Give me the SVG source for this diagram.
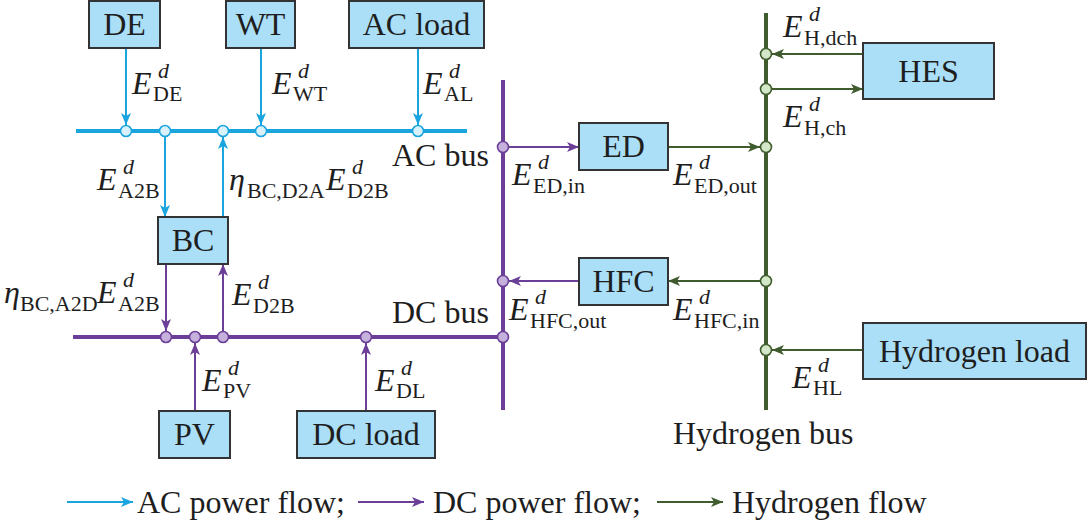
<svg xmlns="http://www.w3.org/2000/svg" width="1088" height="524" viewBox="0 0 1088 524" font-family="Liberation Serif, Times New Roman, DejaVu Serif, serif">
<style>
text{font-family:'Liberation Serif','Times New Roman','DejaVu Serif',serif;fill:#1e1e1e}
.lbl{font-size:32px}
.E{font-size:32px;font-style:italic}
.s{font-size:22px}
.d{font-size:22px;font-style:italic}
.box{fill:#aadff7;stroke:#333;stroke-width:2}
.ac{stroke:#1aa5df;fill:none}
.dc{stroke:#6b3f98;fill:none}
.h2{stroke:#405c2e;fill:none}
.bus{stroke-width:4}
.fl{stroke-width:2}
.cac{fill:#d9f1fb;stroke:#1aa5df;stroke-width:1.6}
.cdc{fill:#c6b1dc;stroke:#6b3f98;stroke-width:1.6}
.ch2{fill:#d2e8c8;stroke:#405c2e;stroke-width:1.6}
</style>
<defs>
<marker id="mac" markerUnits="userSpaceOnUse" markerWidth="13" markerHeight="10" refX="12" refY="5" orient="auto"><path d="M0,0 L12,5 L0,10 L3,5 z" fill="#1aa5df"/></marker>
<marker id="mdc" markerUnits="userSpaceOnUse" markerWidth="13" markerHeight="10" refX="12" refY="5" orient="auto"><path d="M0,0 L12,5 L0,10 L3,5 z" fill="#6b3f98"/></marker>
<marker id="mh2" markerUnits="userSpaceOnUse" markerWidth="13" markerHeight="10" refX="12" refY="5" orient="auto"><path d="M0,0 L12,5 L0,10 L3,5 z" fill="#405c2e"/></marker>
</defs>
<rect width="1088" height="524" fill="#fff"/>

<g id="connectors">
<line class="ac bus" x1="76" y1="131" x2="467" y2="131"/>
<line class="dc bus" x1="73" y1="337" x2="503" y2="337"/>
<line class="dc bus" x1="503" y1="80" x2="503" y2="410"/>
<line class="h2 bus" x1="766" y1="13" x2="766" y2="410"/>
<line class="ac fl" x1="126" y1="48" x2="126" y2="125" marker-end="url(#mac)"/>
<line class="ac fl" x1="261" y1="48" x2="261" y2="125" marker-end="url(#mac)"/>
<line class="ac fl" x1="418" y1="48" x2="418" y2="125" marker-end="url(#mac)"/>
<line class="ac fl" x1="165" y1="137" x2="165" y2="217" marker-end="url(#mac)"/>
<line class="ac fl" x1="223" y1="217" x2="223" y2="137" marker-end="url(#mac)"/>
<line class="dc fl" x1="166" y1="264" x2="166" y2="331" marker-end="url(#mdc)"/>
<line class="dc fl" x1="223" y1="331" x2="223" y2="264" marker-end="url(#mdc)"/>
<line class="dc fl" x1="195" y1="411" x2="195" y2="343" marker-end="url(#mdc)"/>
<line class="dc fl" x1="366" y1="411" x2="366" y2="343" marker-end="url(#mdc)"/>
<line class="dc fl" x1="509" y1="147" x2="579" y2="147" marker-end="url(#mdc)"/>
<line class="dc fl" x1="579" y1="281" x2="509" y2="281" marker-end="url(#mdc)"/>
<line class="h2 fl" x1="668" y1="147" x2="760" y2="147" marker-end="url(#mh2)"/>
<line class="h2 fl" x1="760" y1="281" x2="668" y2="281" marker-end="url(#mh2)"/>
<line class="h2 fl" x1="863" y1="54" x2="772" y2="54" marker-end="url(#mh2)"/>
<line class="h2 fl" x1="772" y1="89" x2="863" y2="89" marker-end="url(#mh2)"/>
<line class="h2 fl" x1="863" y1="350" x2="772" y2="350" marker-end="url(#mh2)"/>
<circle class="cac" cx="126" cy="131" r="5.5"/>
<circle class="cac" cx="165" cy="131" r="5.5"/>
<circle class="cac" cx="223" cy="131" r="5.5"/>
<circle class="cac" cx="261" cy="131" r="5.5"/>
<circle class="cac" cx="418" cy="131" r="5.5"/>
<circle class="cdc" cx="166" cy="337" r="5.5"/>
<circle class="cdc" cx="195" cy="337" r="5.5"/>
<circle class="cdc" cx="223" cy="337" r="5.5"/>
<circle class="cdc" cx="366" cy="337" r="5.5"/>
<circle class="cdc" cx="503" cy="337" r="5.5"/>
<circle class="cdc" cx="503" cy="147" r="5.5"/>
<circle class="cdc" cx="503" cy="281" r="5.5"/>
<circle class="ch2" cx="766" cy="54" r="5.5"/>
<circle class="ch2" cx="766" cy="89" r="5.5"/>
<circle class="ch2" cx="766" cy="147" r="5.5"/>
<circle class="ch2" cx="766" cy="281" r="5.5"/>
<circle class="ch2" cx="766" cy="350" r="5.5"/>
<text><tspan class="E" x="132" y="94">E</tspan><tspan class="d" x="158" y="78">d</tspan><tspan class="s" x="153" y="101">DE</tspan></text>
<text><tspan class="E" x="272" y="94">E</tspan><tspan class="d" x="298" y="78">d</tspan><tspan class="s" x="293" y="101">WT</tspan></text>
<text><tspan class="E" x="423" y="94">E</tspan><tspan class="d" x="449" y="78">d</tspan><tspan class="s" x="444" y="101">AL</tspan></text>
<text><tspan class="E" x="97" y="190">E</tspan><tspan class="d" x="123" y="174">d</tspan><tspan class="s" x="118" y="198">A2B</tspan></text>
<text><tspan class="E" x="229" y="190">η</tspan><tspan class="s" x="247" y="198">BC,D2A</tspan><tspan class="E" x="326" y="190">E</tspan><tspan class="d" x="352" y="174">d</tspan><tspan class="s" x="347" y="198">D2B</tspan></text>
<text><tspan class="E" x="4" y="303">η</tspan><tspan class="s" x="20" y="311">BC,A2D</tspan><tspan class="E" x="97" y="303">E</tspan><tspan class="d" x="123" y="287">d</tspan><tspan class="s" x="118" y="311">A2B</tspan></text>
<text><tspan class="E" x="232" y="305">E</tspan><tspan class="d" x="258" y="289">d</tspan><tspan class="s" x="253" y="313">D2B</tspan></text>
<text><tspan class="E" x="202" y="391">E</tspan><tspan class="d" x="228" y="375">d</tspan><tspan class="s" x="223" y="398">PV</tspan></text>
<text><tspan class="E" x="375" y="391">E</tspan><tspan class="d" x="401" y="375">d</tspan><tspan class="s" x="396" y="398">DL</tspan></text>
<text><tspan class="E" x="512" y="185">E</tspan><tspan class="d" x="538" y="169">d</tspan><tspan class="s" x="533" y="193">ED,in</tspan></text>
<text><tspan class="E" x="673" y="185">E</tspan><tspan class="d" x="699" y="169">d</tspan><tspan class="s" x="694" y="193">ED,out</tspan></text>
<text><tspan class="E" x="509" y="320">E</tspan><tspan class="d" x="535" y="304">d</tspan><tspan class="s" x="530" y="328">HFC,out</tspan></text>
<text><tspan class="E" x="673" y="320">E</tspan><tspan class="d" x="699" y="304">d</tspan><tspan class="s" x="694" y="328">HFC,in</tspan></text>
<text><tspan class="E" x="783" y="37">E</tspan><tspan class="d" x="809" y="21">d</tspan><tspan class="s" x="804" y="45">H,dch</tspan></text>
<text><tspan class="E" x="783" y="127">E</tspan><tspan class="d" x="809" y="111">d</tspan><tspan class="s" x="804" y="135">H,ch</tspan></text>
<text><tspan class="E" x="792" y="388">E</tspan><tspan class="d" x="818" y="372">d</tspan><tspan class="s" x="813" y="395">HL</tspan></text>
</g>

<g id="AC-bus-label"><text class="lbl" x="392" y="166">AC bus</text></g>
<g id="DC-bus-label"><text class="lbl" x="392" y="323">DC bus</text></g>
<g id="H2-bus-label"><text class="lbl" x="673" y="444">Hydrogen bus</text></g>

<g id="DE"><rect class="box" x="89" y="1" width="71" height="47"/><text class="lbl" x="124.5" y="35" text-anchor="middle">DE</text></g>
<g id="WT"><rect class="box" x="226" y="1" width="69" height="47"/><text class="lbl" x="260.5" y="35" text-anchor="middle">WT</text></g>
<g id="ACload"><rect class="box" x="349" y="1" width="135" height="47"/><text class="lbl" x="416.5" y="35" text-anchor="middle">AC load</text></g>
<g id="BC"><rect class="box" x="158" y="217" width="70" height="47"/><text class="lbl" x="193" y="251" text-anchor="middle">BC</text></g>
<g id="PV"><rect class="box" x="159" y="411" width="71" height="47"/><text class="lbl" x="194.5" y="445" text-anchor="middle">PV</text></g>
<g id="DCload"><rect class="box" x="297" y="411" width="138" height="47"/><text class="lbl" x="366" y="445" text-anchor="middle">DC load</text></g>
<g id="ED"><rect class="box" x="579" y="123" width="89" height="47"/><text class="lbl" x="623.5" y="157" text-anchor="middle">ED</text></g>
<g id="HFC"><rect class="box" x="579" y="258" width="89" height="47"/><text class="lbl" x="623.5" y="292" text-anchor="middle">HFC</text></g>
<g id="HES"><rect class="box" x="863" y="43" width="131" height="56"/><text class="lbl" x="928.5" y="82" text-anchor="middle">HES</text></g>
<g id="Hload"><rect class="box" x="863" y="323" width="223" height="56"/><text class="lbl" x="974.5" y="362" text-anchor="middle">Hydrogen load</text></g>

<g id="legend">
<line class="ac fl" x1="67" y1="502" x2="133" y2="502" marker-end="url(#mac)"/>
<text class="lbl" x="137" y="513">AC power flow;</text>
<line class="dc fl" x1="358" y1="502" x2="424" y2="502" marker-end="url(#mdc)"/>
<text class="lbl" x="433" y="513">DC power flow;</text>
<line class="h2 fl" x1="657" y1="502" x2="723" y2="502" marker-end="url(#mh2)"/>
<text class="lbl" x="732" y="513">Hydrogen flow</text>
</g>
</svg>
